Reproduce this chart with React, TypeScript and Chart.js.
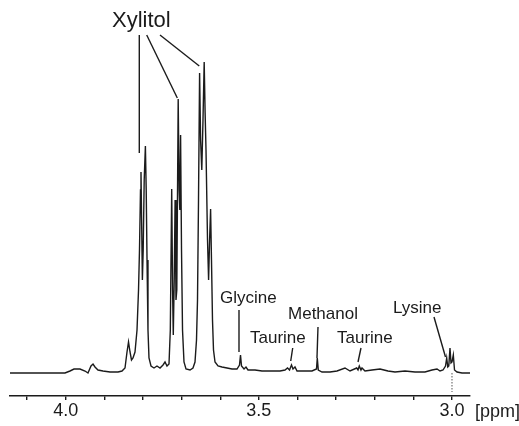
import React, { useEffect, useRef } from "react";
import { Chart, registerables } from "chart.js";

Chart.register(...registerables);

// Chemical shift (ppm) and relative intensity of the 1H NMR trace
const PPM = [
  4.1442, 4.0924, 4.0406, 4.0018, 3.9889, 3.9785, 3.963, 3.95, 3.9423, 3.9345,
  3.9293, 3.9242, 3.9164, 3.9034, 3.8853, 3.8646, 3.8543, 3.8465, 3.8413, 3.8374,
  3.8335, 3.8297, 3.8258, 3.8206, 3.8154, 3.8115, 3.809, 3.8064, 3.8051, 3.8035,
  3.8015, 3.7994, 3.7968, 3.7937, 3.7916, 3.7895, 3.787, 3.7844, 3.7792, 3.7714,
  3.7637, 3.7559, 3.7481, 3.7429, 3.7378, 3.7326, 3.7292, 3.7256, 3.7233, 3.7215,
  3.7191, 3.7168, 3.7145, 3.7124, 3.7088, 3.7064, 3.7046, 3.7026, 3.7002, 3.6976,
  3.6938, 3.6886, 3.6782, 3.6705, 3.6653, 3.6614, 3.6588, 3.6562, 3.6534, 3.6508,
  3.6477, 3.6446, 3.6415, 3.6391, 3.6368, 3.6329, 3.6301, 3.6275, 3.6249, 3.6226,
  3.62, 3.6174, 3.6135, 3.6057, 3.5954, 3.5824, 3.5695, 3.5566, 3.5501, 3.5475,
  3.5449, 3.5384, 3.5333, 3.5281, 3.51, 3.4918, 3.4711, 3.4452, 3.4323, 3.4258,
  3.4206, 3.4155, 3.4116, 3.4064, 3.4012, 3.3805, 3.3624, 3.3508, 3.3487, 3.3461,
  3.3365, 3.3158, 3.2977, 3.277, 3.264, 3.2467, 3.2433, 3.24, 3.2356, 3.233,
  3.2252, 3.2071, 3.1864, 3.1657, 3.1475, 3.1217, 3.0958, 3.0699, 3.0518, 3.0388,
  3.031, 3.0233, 3.0168, 3.0137, 3.0109, 3.0083, 3.0052, 3.0026, 3.0, 2.9966,
  2.9935, 2.987, 2.9741, 2.9534,
];
const INTENSITY = [
  -1, -1, -1, -1, 1, 3, 3, 1, -1, 6,
  8, 5, 2, 1, 0, 0, 1, 4, 20, 30,
  20, 12, 14, 20, 42, 82, 122, 182, 200, 152,
  92, 122, 192, 226, 182, 112, 42, 14, 6, 4,
  6, 4, 7, 10, 6, 8, 42, 183, 82, 37,
  92, 172, 72, 82, 273, 182, 162, 237, 122, 42,
  10, 3, 2, 4, 10, 32, 72, 172, 299, 232,
  202, 252, 310, 259, 222, 132, 92, 132, 163, 112,
  52, 22, 10, 6, 5, 4, 3, 3, 7, 17,
  6, 3, 5, 2, 2, 1, 1, 1, 2, 4,
  2, 7, 3, 5, 1, 1, 1, 3, 14, 2,
  0, 0, 1, 4, 1, 4, 2, 6, 2, 4,
  1, 2, 3, 1, 0, 1, 0, 0, 2, 3,
  1, 2, 6, 14, 5, 6, 24, 9, 10, 17,
  2, 0, -1, -1,
];

const X_MIN = 2.9534;
const X_MAX = 4.1442;
const Y_MIN = -24;
const Y_MAX = 372;

const TICK_VALUES = [4.1, 4.0, 3.9, 3.8, 3.7, 3.6, 3.5, 3.4, 3.3, 3.2, 3.1, 3.0];
const TICK_LABELS = ["", "4.0", "", "", "", "", "3.5", "", "", "", "", "3.0"];
const AXIS_UNIT = "[ppm]";

// Peak assignments: label text, anchor (ppm, intensity)
const LABEL_TEXT = ["Xylitol", "Glycine", "Taurine", "Methanol", "Taurine", "Lysine"];
const LABEL_PPM = [3.8801, 3.6006, 3.5229, 3.4245, 3.2977, 3.1527];
const LABEL_INT = [345, 69, 29, 53, 29, 59];
const LABEL_SIZE = [22, 17, 17, 17, 17, 17];

// Leader lines: [ppm from, intensity from, ppm to, intensity to]
const LEADERS = [
  [3.8095, 337, 3.8095, 219],
  [3.7903, 337, 3.7111, 274],
  [3.7559, 337, 3.6542, 306],
  [3.5514, 62, 3.5514, 20],
  [3.4124, 24, 3.4175, 11],
  [3.3469, 45, 3.3495, 14],
  [3.2356, 24, 3.2433, 10],
  [3.0466, 55, 3.0168, 15],
];
// Dotted reference marker
const REF_MARK = [3.0, -1, 3.0, -20];

const INK = "#1b1b1b";
const FONT = "'Liberation Sans', Arial, sans-serif";

export default function App() {
  const canvasRef = useRef<HTMLCanvasElement | null>(null);

  useEffect(() => {
    const canvas = canvasRef.current;
    if (!canvas) return;

    const annotate = {
      id: "annotate",
      afterDatasetsDraw(chart: any) {
        const ctx = chart.ctx;
        const xs = chart.scales.x;
        const ys = chart.scales.y;
        ctx.save();
        ctx.strokeStyle = INK;
        ctx.lineWidth = 1.4;
        LEADERS.forEach((l) => {
          ctx.beginPath();
          ctx.moveTo(xs.getPixelForValue(l[0]), ys.getPixelForValue(l[1]));
          ctx.lineTo(xs.getPixelForValue(l[2]), ys.getPixelForValue(l[3]));
          ctx.stroke();
        });
        ctx.setLineDash([1.5, 1.5]);
        ctx.strokeStyle = "#555";
        ctx.lineWidth = 1;
        ctx.beginPath();
        ctx.moveTo(xs.getPixelForValue(REF_MARK[0]), ys.getPixelForValue(REF_MARK[1]));
        ctx.lineTo(xs.getPixelForValue(REF_MARK[2]), ys.getPixelForValue(REF_MARK[3]));
        ctx.stroke();
        ctx.setLineDash([]);
        ctx.fillStyle = INK;
        ctx.textAlign = "left";
        ctx.textBaseline = "alphabetic";
        LABEL_TEXT.forEach((t, i) => {
          ctx.font = `${LABEL_SIZE[i]}px ${FONT}`;
          ctx.fillText(t, xs.getPixelForValue(LABEL_PPM[i]), ys.getPixelForValue(LABEL_INT[i]));
        });
        ctx.restore();
      },
      afterDraw(chart: any) {
        const ctx = chart.ctx;
        const xs = chart.scales.x;
        ctx.save();
        ctx.fillStyle = INK;
        ctx.font = `18px ${FONT}`;
        ctx.textAlign = "left";
        ctx.textBaseline = "alphabetic";
        ctx.fillText(AXIS_UNIT, xs.getPixelForValue(TICK_VALUES[TICK_VALUES.length - 1]) + 23, xs.bottom - 9);
        ctx.restore();
      },
    };

    const chart = new Chart(canvas, {
      type: "line",
      data: {
        datasets: [
          {
            data: PPM.map((p, i) => ({ x: p, y: INTENSITY[i] })),
            borderColor: INK,
            borderWidth: 1.4,
            pointRadius: 0,
            tension: 0,
            fill: false,
          },
        ],
      },
      options: {
        responsive: false,
        animation: false,
        events: [],
        layout: { padding: { left: 10, right: 49, top: 0, bottom: 0 } },
        plugins: { legend: { display: false }, tooltip: { enabled: false } },
        scales: {
          x: {
            type: "linear",
            reverse: true,
            min: X_MIN,
            max: X_MAX,
            afterBuildTicks: (scale: any) => {
              scale.ticks = TICK_VALUES.map((v) => ({ value: v }));
            },
            afterFit: (scale: any) => {
              scale.height = 30;
            },
            grid: {
              display: true,
              drawOnChartArea: false,
              drawTicks: true,
              tickLength: 4,
              color: INK,
              lineWidth: 1.4,
            },
            border: { display: true, color: INK, width: 1.5 },
            ticks: {
              autoSkip: false,
              maxRotation: 0,
              padding: 0,
              color: INK,
              font: { family: FONT, size: 18 },
              callback: (value: any) => {
                const idx = TICK_VALUES.findIndex((t) => Math.abs(t - Number(value)) < 1e-6);
                return idx >= 0 ? TICK_LABELS[idx] : "";
              },
            },
          },
          y: {
            display: false,
            min: Y_MIN,
            max: Y_MAX,
          },
        },
      },
      plugins: [annotate],
    });

    return () => chart.destroy();
  }, []);

  return (
    <div style={{ position: "absolute", left: 0, top: 0, width: 519, height: 426, background: "#fff" }}>
      <canvas ref={canvasRef} width={519} height={426} style={{ display: "block" }} />
    </div>
  );
}
